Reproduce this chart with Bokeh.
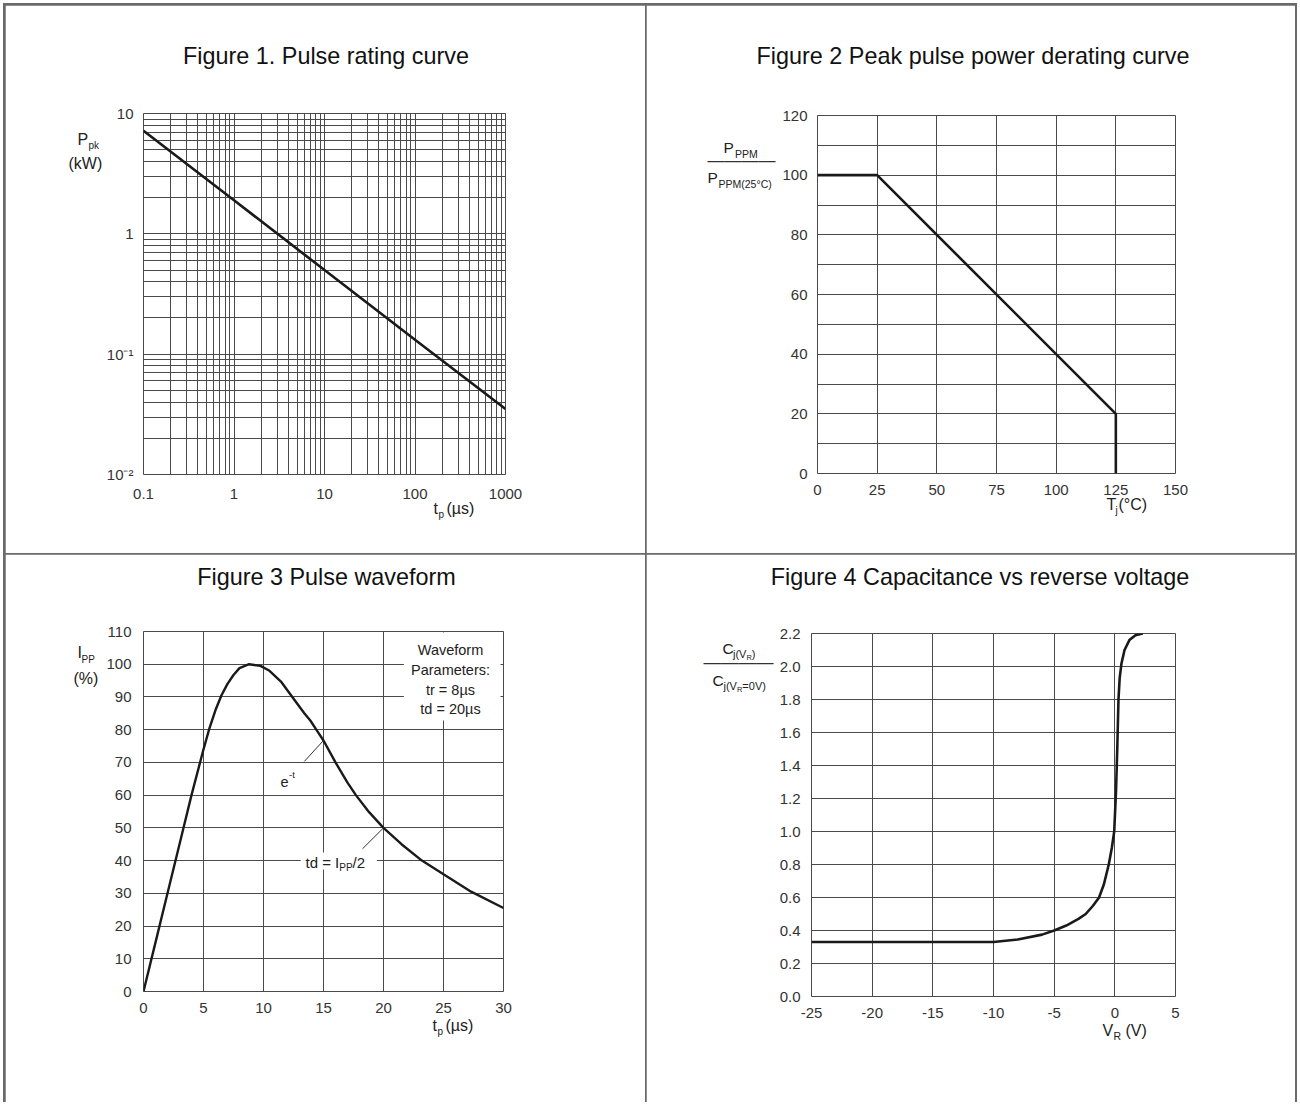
import numpy as np
from bokeh.plotting import figure
from bokeh.models import (Range1d, FixedTicker, Label, BoxAnnotation, GridBox)
from bokeh.embed import file_html
from bokeh.resources import INLINE

# ---------------- data ----------------
# Figure 1: pulse rating curve (log-log)
f1_tp = [0.1, 1, 10, 100, 1000]
f1_ppk = [7.2, 1.9, 0.5, 0.132, 0.035]
f1_xticks = [0.1, 1, 10, 100, 1000]
f1_xlabels = ["0.1", "1", "10", "100", "1000"]
f1_yticks = [0.01, 0.1, 1, 10]
f1_ylabels = ["10⁻²", "10⁻¹", "1", "10"]

# Figure 2: peak pulse power derating curve
f2_tj = [0, 25, 125, 125]
f2_ratio = [100, 100, 20, 0]
f2_xticks = [0, 25, 50, 75, 100, 125, 150]
f2_yticks = [0, 20, 40, 60, 80, 100, 120]
f2_yminor = [10, 30, 50, 70, 90, 110]

# Figure 3: pulse waveform
f3_t = [0, 1, 2, 3, 4, 5, 5.5, 6, 6.5, 7, 7.5, 8, 8.8, 9.75, 10.5, 11.5,
        12.4, 13.4, 13.9, 14.4, 15, 16, 17, 17.7, 18.8, 20, 21.5, 23.2, 25,
        27.3, 30]
f3_i = [0, 15, 30, 45, 60, 74, 80.5, 86, 90.5, 94, 96.7, 98.8, 100, 99.5,
        98, 94.5, 90, 85, 82.8, 80, 76.7, 70, 63.8, 60, 54.8, 50, 45, 40,
        35.8, 30.5, 25.5]
f3_xticks = [0, 5, 10, 15, 20, 25, 30]
f3_yticks = [0, 10, 20, 30, 40, 50, 60, 70, 80, 90, 100, 110]

# Figure 4: capacitance vs reverse voltage
f4_v = [-25, -10, -8, -6, -5, -4, -3, -2.4, -1.8, -1.3, -0.9, -0.5, -0.25,
        -0.05, 0.1, 0.2, 0.3, 0.4, 0.55, 0.8, 1.2, 1.7, 2.3]
f4_c = [0.33, 0.33, 0.345, 0.375, 0.40, 0.43, 0.47, 0.50, 0.55, 0.60, 0.68,
        0.80, 0.90, 1.0, 1.25, 1.5, 1.8, 1.93, 2.02, 2.1, 2.16, 2.19, 2.2]
f4_xticks = [-25, -20, -15, -10, -5, 0, 5]
f4_xlabels = ["-25", "-20", "-15", "-10", "-5", "0", "5"]
f4_yticks = [0.0, 0.2, 0.4, 0.6, 0.8, 1.0, 1.2, 1.4, 1.6, 1.8, 2.0, 2.2]
f4_ylabels = ["0.0", "0.2", "0.4", "0.6", "0.8", "1.0", "1.2", "1.4", "1.6",
              "1.8", "2.0", "2.2"]

# ---------------- styling ----------------
FONT = "Liberation Sans"
TICK_COLOR = "#333333"
TEXT_COLOR = "#222222"
GRID_COLOR = "#4a4a4a"
CURVE_COLOR = "#1a1a1a"
TITLE_SIZE = 23.4

# Arial-compatible advance widths (em/1000) for placing sub/superscripts
WID = {" ": 278, "(": 333, ")": 333, "%": 889, ".": 278, "/": 278, ":": 278,
       "=": 584, "-": 333, "°": 400, "µ": 556, "C": 722, "I": 278, "M": 833,
       "P": 667, "R": 722, "T": 611, "V": 667, "W": 944, "a": 556, "e": 556,
       "j": 222, "k": 500, "p": 556, "r": 333, "s": 500, "t": 278, "d": 556}

GEOM = {}


def tw(s, size):
    return sum(WID.get(c, 556) for c in s) / 1000.0 * size


def make_fig(cell, frame, xstand=11, ystand=10, **kw):
    cx0, cy0, cx1, cy1 = cell
    fl, ft, fr, fb = frame
    p = figure(width=cx1 - cx0, height=cy1 - cy0, output_backend="svg",
               toolbar_location=None, tools="", title=None, frame_align=False,
               min_border_left=fl - cx0, min_border_right=cx1 - fr,
               min_border_top=ft - cy0, min_border_bottom=cy1 - fb, **kw)
    GEOM[p.id] = (cell, frame)
    for ax in (p.xaxis, p.yaxis):
        ax.axis_line_color = None
        ax.major_tick_line_color = None
        ax.minor_tick_line_color = None
        ax.major_tick_out = 0
        ax.minor_tick_out = 0
        ax.major_label_text_font = FONT
        ax.major_label_text_font_size = "15px"
        ax.major_label_text_color = TICK_COLOR
    p.xaxis.major_label_standoff = xstand
    p.yaxis.major_label_standoff = ystand
    p.grid.grid_line_color = GRID_COLOR
    p.grid.grid_line_width = 1
    p.grid.grid_line_alpha = 1
    p.outline_line_color = GRID_COLOR
    p.outline_line_width = 1
    p.outline_line_alpha = 1
    p.background_fill_color = "white"
    p.border_fill_color = "white"
    return p


def txt(p, s, size, x, y, align="left", color=TEXT_COLOR, side=None):
    """x, y: page coordinates of the text baseline anchor."""
    (cx0, cy0, _, _), (fl, ft, fr, fb) = GEOM[p.id]
    ym = y - 0.35 * size  # middle of the em box
    if side is None:
        lab = Label(x=x - fl, y=fb - ym, x_units="screen", y_units="screen")
    else:
        lab = Label(x=x - cx0, y=ym - cy0, x_units="canvas", y_units="canvas")
    lab.update(text=s, text_font=FONT, text_font_size=f"{size}px",
               text_color=color, text_align=align, text_baseline="middle")
    if side is None:
        p.add_layout(lab)
    else:
        p.add_layout(lab, side)


def rich(p, parts, x, side=None):
    # parts: (text, size, baseline_y)
    for t, s, y in parts:
        txt(p, t, s, x, y, side=side)
        x += tw(t, s)


def bar(p, x0, width, y, side):
    # fraction bar drawn with em dashes (1 em wide each)
    n = 4
    size = width / n
    txt(p, "—" * n, round(size, 2), x0, y + 0.276 * size, color=TICK_COLOR,
        side=side)


# cells (page coordinates): container margin 3px + 2px padding, 1px gap
C1 = (5, 5, 645, 553)
C2 = (646, 5, 1295, 553)
C3 = (5, 554, 645, 1102)
C4 = (646, 554, 1295, 1102)

# ---------------- Figure 1 ----------------
p1 = make_fig(C1, (143, 113, 505, 474), xstand=14, ystand=10,
              x_axis_type="log", y_axis_type="log",
              x_range=Range1d(0.1, 1000), y_range=Range1d(0.01, 10))
minor_x = [m * d for d in (0.1, 1, 10, 100) for m in range(2, 10)]
minor_y = [m * d for d in (0.01, 0.1, 1) for m in range(2, 10)]
p1.xaxis.ticker = FixedTicker(ticks=f1_xticks, minor_ticks=minor_x)
p1.yaxis.ticker = FixedTicker(ticks=f1_yticks, minor_ticks=minor_y)
p1.xaxis.major_label_overrides = dict(zip(f1_xticks, f1_xlabels))
p1.yaxis.major_label_overrides = dict(zip(f1_yticks, f1_ylabels))
p1.grid.minor_grid_line_color = GRID_COLOR
p1.grid.minor_grid_line_alpha = 1
p1.line(f1_tp, f1_ppk, line_color=CURVE_COLOR, line_width=2.6)
txt(p1, "Figure 1. Pulse rating curve", TITLE_SIZE, 325.5, 64,
    align="center", color="#111111", side="above")
txt(p1, "P", 16, 77, 145, side="right")
txt(p1, "pk", 10, 88, 148.5, side="right")
txt(p1, "(kW)", 16, 68, 169, side="right")
txt(p1, "t", 16, 433, 514, side="right")
txt(p1, "p", 10, 438, 517.5, side="right")
txt(p1, "(µs)", 16, 446, 514, side="right")

# ---------------- Figure 2 ----------------
p2 = make_fig(C2, (817, 115, 1175, 473), xstand=11, ystand=10,
              x_range=Range1d(0, 150), y_range=Range1d(0, 120))
p2.xaxis.ticker = FixedTicker(ticks=f2_xticks)
p2.yaxis.ticker = FixedTicker(ticks=f2_yticks, minor_ticks=f2_yminor)
p2.ygrid.minor_grid_line_color = GRID_COLOR
p2.ygrid.minor_grid_line_alpha = 1
p2.line(f2_tj, f2_ratio, line_color=CURVE_COLOR, line_width=2.6)
txt(p2, "Figure 2 Peak pulse power derating curve", TITLE_SIZE, 972.5, 64,
    align="center", color="#111111", side="above")
txt(p2, "P", 15.5, 723, 152, side="above")
txt(p2, "PPM", 10.5, 734.5, 157, side="above")
bar(p2, 707, 68, 161, side="above")
txt(p2, "P", 15.5, 707, 182, side="right")
txt(p2, "PPM(25°C)", 10.5, 718, 187, side="right")
txt(p2, "T", 16, 1106, 510, side="right")
txt(p2, "j", 10, 1115, 513.5, side="right")
txt(p2, "(°C)", 16, 1118, 510, side="right")

# ---------------- Figure 3 ----------------
p3 = make_fig(C3, (143, 631, 503, 991), xstand=11, ystand=12,
              x_range=Range1d(0, 30), y_range=Range1d(0, 110))
p3.xaxis.ticker = FixedTicker(ticks=f3_xticks)
p3.yaxis.ticker = FixedTicker(ticks=f3_yticks)
p3.line(f3_t, f3_i, line_color=CURVE_COLOR, line_width=2.4)
# white boxes behind the in-plot notes
p3.add_layout(BoxAnnotation(left=21.7, right=29.75, bottom=82.8, top=109.7,
                            fill_color="white", fill_alpha=1, line_color=None))
p3.add_layout(BoxAnnotation(left=13.1, right=19.45, bottom=37.3, top=42.5,
                            fill_color="white", fill_alpha=1, line_color=None))
# leader lines anchored on the curve
a_t = [15, 20]
a_i = list(np.interp(a_t, f3_t, f3_i))
p3.segment(x0=a_t, y0=a_i, x1=[a_t[0] - 1.6, a_t[1] - 1.75],
           y1=[a_i[0] - 6.4, a_i[1] - 6.4], line_color=TICK_COLOR,
           line_width=1)
txt(p3, "Figure 3 Pulse waveform", TITLE_SIZE, 326, 585, align="center",
    color="#111111", side="above")
for s, yb in (("Waveform", 655), ("Parameters:", 675), ("tr = 8µs", 695),
              ("td = 20µs", 714)):
    txt(p3, s, 14.5, 450, yb, align="center")
txt(p3, "e", 14.5, 280, 787)
txt(p3, "-t", 9.5, 288.5, 777.5)
rich(p3, [("td = I", 15, 867), ("PP", 10, 870.5), ("/2", 15, 867)], 305)
txt(p3, "I", 16, 77, 658, side="right")
txt(p3, "PP", 10, 81, 662, side="right")
txt(p3, "(%)", 16, 73, 684, side="right")
txt(p3, "t", 16, 432, 1031, side="right")
txt(p3, "p", 10, 437, 1034.5, side="right")
txt(p3, "(µs)", 16, 445, 1031, side="right")

# ---------------- Figure 4 ----------------
p4 = make_fig(C4, (811, 633, 1175, 996), xstand=11, ystand=11,
              x_range=Range1d(-25, 5), y_range=Range1d(0, 2.2))
p4.xaxis.ticker = FixedTicker(ticks=f4_xticks)
p4.yaxis.ticker = FixedTicker(ticks=f4_yticks)
p4.xaxis.major_label_overrides = dict(zip(f4_xticks, f4_xlabels))
p4.yaxis.major_label_overrides = dict(zip(f4_yticks, f4_ylabels))
p4.line(f4_v, f4_c, line_color=CURVE_COLOR, line_width=2.6)
txt(p4, "Figure 4 Capacitance vs reverse voltage", TITLE_SIZE, 979.5, 585,
    align="center", color="#111111", side="above")
txt(p4, "C", 15.5, 722, 653, side="right")
rich(p4, [("j(V", 11, 657.5), ("R", 7.5, 660), (")", 11, 657.5)], 732.5,
     side="right")
bar(p4, 703, 70, 663, side="right")
txt(p4, "C", 15.5, 712, 685, side="left")
rich(p4, [("j(V", 11, 689.5), ("R", 7.5, 692), ("=0V)", 11, 689.5)], 723,
     side="left")
txt(p4, "V", 16, 1102, 1036, side="left")
txt(p4, "R", 10.5, 1113, 1039.5, side="left")
txt(p4, "(V)", 16, 1125, 1036, side="left")

grid = GridBox(children=[(p1, 0, 0), (p2, 0, 1), (p3, 1, 0), (p4, 1, 1)],
               spacing=1,
               styles={"background-color": "#6a6a6a",
                       "margin": "3px 0px 0px 3px",
                       "padding": "2px 2px 0px 2px"})

open("out.html", "w").write(file_html(grid, INLINE))
